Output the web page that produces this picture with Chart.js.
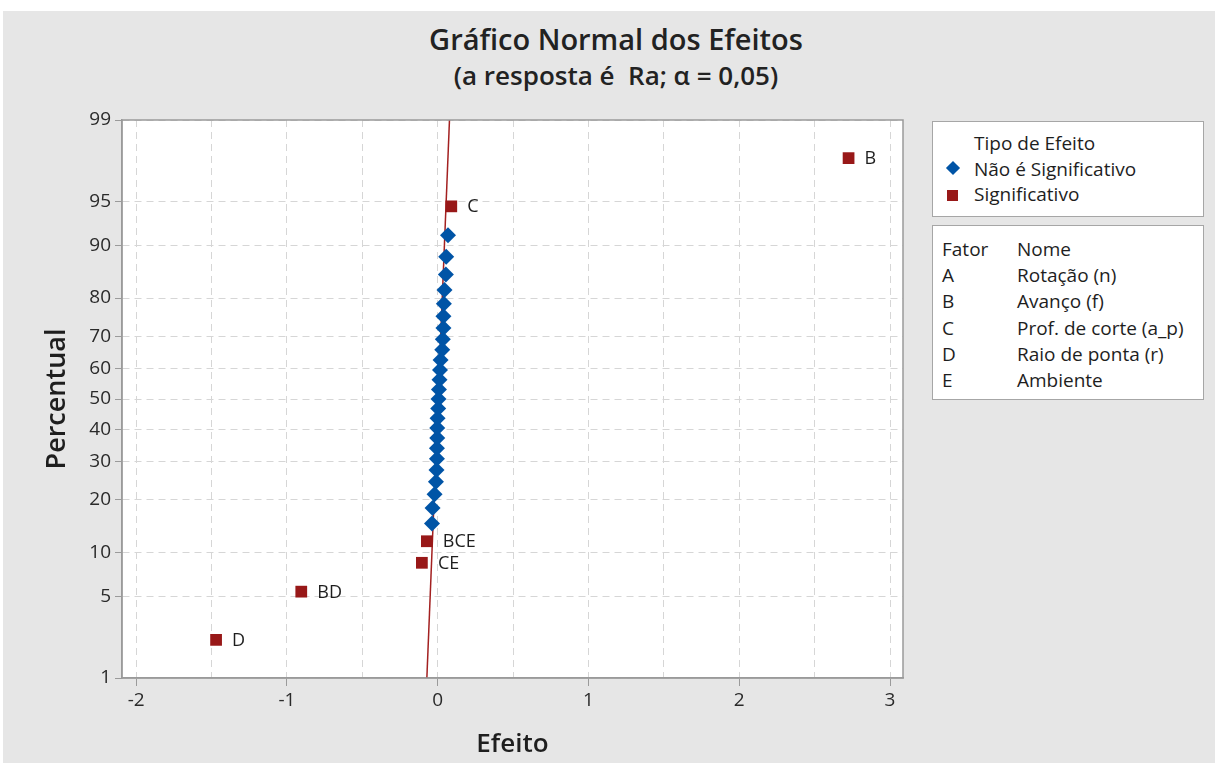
<!DOCTYPE html>
<html>
<head>
<meta charset="utf-8">
<script src="https://cdn.jsdelivr.net/npm/chart.js@4.4.0/dist/chart.umd.min.js"></script>
<style>
  html, body { margin: 0; padding: 0; background: #fff; width: 1215px; height: 763px; overflow: hidden; font-family: "Open Sans", sans-serif; color: #1e1e1e; }
  #fundo { position: absolute; left: 3px; top: 11px; width: 1212px; height: 752px; background: #e6e6e6; }
  #wrap { position: absolute; left: 17px; top: 0; width: 1198px; height: 763px; }
  .tit { position: absolute; left: 17px; width: 1198px; text-align: center; white-space: nowrap; font-weight: 600; color: #222; }
  #t1 { top: 21px; font-size: 29px; line-height: 36px; }
  #t2 { top: 60px; font-size: 26px; line-height: 30px; }
  .caixa { position: absolute; left: 932px; width: 272px; background: #fff; border: 1px solid #a6a6a6; box-sizing: border-box; font-size: 19px; }
  .lin { position: absolute; white-space: nowrap; line-height: 24px; }
  .diam { position: absolute; width: 10px; height: 10px; background: #0054a6; transform: rotate(45deg); }
  .quad { position: absolute; width: 11px; height: 11px; background: #981818; }
</style>
</head>
<body>
<div id="fundo"></div>
<div class="tit" id="t1">Gráfico Normal dos Efeitos</div>
<div class="tit" id="t2">(a resposta é&nbsp; Ra; α = 0,05)</div>
<div id="wrap"><canvas id="grafica" width="1198" height="763"></canvas></div>

<div class="caixa" style="top:121px;height:96px;">
  <div class="lin" style="left:41px;top:9px;">Tipo de Efeito</div>
  <div class="diam" style="left:15px;top:41px;"></div>
  <div class="lin" style="left:41px;top:35px;">Não é Significativo</div>
  <div class="quad" style="left:14px;top:68px;"></div>
  <div class="lin" style="left:41px;top:60px;">Significativo</div>
</div>
<div class="caixa" id="fatores" style="top:225px;height:175px;"></div>

<script>
// fatores do planejamento
const fatores = ["A", "B", "C", "D", "E"];
const nomesFatores = ["Rotação (n)", "Avanço (f)", "Prof. de corte (a_p)", "Raio de ponta (r)", "Ambiente"];

// efeitos não significativos (ordenados) e seus percentuais
const efeitosNS = [-0.038, -0.034, -0.021, -0.012, -0.008, -0.005, -0.005, -0.003, -0.003, -0.001,
                   0.003, 0.005, 0.008, 0.012, 0.015, 0.019, 0.030, 0.034, 0.038, 0.038,
                   0.041, 0.045, 0.054, 0.056, 0.068];
const percNS = [14.97, 18.15, 21.34, 24.52, 27.71, 30.89, 34.08, 37.26, 40.45, 43.63,
                46.82, 50.00, 53.18, 56.37, 59.55, 62.74, 65.92, 69.11, 72.29, 75.48,
                78.66, 81.85, 85.03, 88.22, 91.40];

// efeitos significativos
const nomesSig = ["D", "BD", "CE", "BCE", "C", "B"];
const efeitosSig = [-1.47, -0.905, -0.105, -0.072, 0.09, 2.725];
const percSig = [2.23, 5.41, 8.60, 11.78, 94.59, 97.77];

// reta de referência
const linhaEfeito = [-0.072, 0.078];
const linhaPerc = [1, 99];

// marcas dos eixos
const percTicks = [1, 5, 10, 20, 30, 40, 50, 60, 70, 80, 90, 95, 99];
const efeitoTicks = [-2, -1.5, -1, -0.5, 0, 0.5, 1, 1.5, 2, 2.5, 3];

// tabela de fatores
const $fat = document.querySelector("#fatores");
let html = '<div class="lin" style="left:9px;top:11px;">Fator</div><div class="lin" style="left:84px;top:11px;">Nome</div>';
fatores.forEach((f, i) => {
  const top = 11 + (i + 1) * 26.2;
  html += `<div class="lin" style="left:9px;top:${top}px;">${f}</div><div class="lin" style="left:84px;top:${top}px;">${nomesFatores[i]}</div>`;
});
$fat.innerHTML = html;

// inversa da normal padrão (Acklam)
function probit(p) {
  const a = [-3.969683028665376e+01, 2.209460984245205e+02, -2.759285104469687e+02, 1.383577518672690e+02, -3.066479806614716e+01, 2.506628277459239e+00];
  const b = [-5.447609879822406e+01, 1.615858368580409e+02, -1.556989798598866e+02, 6.680131188771972e+01, -1.328068155288572e+01];
  const c = [-7.784894002430293e-03, -3.223964580411365e-01, -2.400758277161838e+00, -2.549732539343734e+00, 4.374664141464968e+00, 2.938163982698783e+00];
  const d = [7.784695709041462e-03, 3.224671290700398e-01, 2.445134137142996e+00, 3.754408661907416e+00];
  const pl = 0.02425;
  let q, r;
  if (p < pl) {
    q = Math.sqrt(-2 * Math.log(p));
    return (((((c[0]*q+c[1])*q+c[2])*q+c[3])*q+c[4])*q+c[5]) / ((((d[0]*q+d[1])*q+d[2])*q+d[3])*q+1);
  }
  if (p > 1 - pl) {
    q = Math.sqrt(-2 * Math.log(1 - p));
    return -(((((c[0]*q+c[1])*q+c[2])*q+c[3])*q+c[4])*q+c[5]) / ((((d[0]*q+d[1])*q+d[2])*q+d[3])*q+1);
  }
  q = p - 0.5; r = q * q;
  return (((((a[0]*r+a[1])*r+a[2])*r+a[3])*r+a[4])*r+a[5])*q / (((((b[0]*r+b[1])*r+b[2])*r+b[3])*r+b[4])*r+1);
}
const pontos = (xs, ps) => xs.map((x, i) => ({ x: x, y: probit(ps[i] / 100) }));

const fonte = { family: "Open Sans", size: 19 };

// fundo branco + moldura da área do gráfico
const moldura = {
  id: "moldura",
  beforeDraw(chart) {
    const { ctx, chartArea: a } = chart;
    ctx.save();
    ctx.fillStyle = "#fff";
    ctx.fillRect(a.left, a.top, a.right - a.left, a.bottom - a.top);
    ctx.restore();
  },
  afterDraw(chart) {
    const { ctx, chartArea: a } = chart;
    ctx.save();
    ctx.strokeStyle = "#9a9a9a";
    ctx.lineWidth = 1.5;
    ctx.strokeRect(a.left, a.top, a.right - a.left, a.bottom - a.top);
    ctx.restore();
  },
};

// rótulos dos efeitos significativos
const rotulos = {
  id: "rotulos",
  afterDatasetsDraw(chart) {
    const meta = chart.getDatasetMeta(2);
    const ctx = chart.ctx;
    ctx.save();
    ctx.font = "18px 'Open Sans'";
    ctx.fillStyle = "#1e1e1e";
    ctx.textBaseline = "middle";
    meta.data.forEach((el, i) => ctx.fillText(nomesSig[i], el.x + 16, el.y + 1));
    ctx.restore();
  },
};

new Chart(document.querySelector("#grafica"), {
  data: {
    datasets: [
      {
        type: "line",
        label: "Reta",
        data: pontos(linhaEfeito, linhaPerc),
        borderColor: "#a32020",
        borderWidth: 1.5,
        pointRadius: 0,
        order: 3,
      },
      {
        type: "scatter",
        label: "Não é Significativo",
        data: pontos(efeitosNS, percNS),
        pointStyle: "rectRot",
        pointRadius: 8,
        backgroundColor: "#0054a6",
        borderColor: "#0054a6",
        borderWidth: 0,
        order: 1,
      },
      {
        type: "scatter",
        label: "Significativo",
        data: pontos(efeitosSig, percSig),
        pointStyle: "rect",
        pointRadius: 8.3,
        backgroundColor: "#981818",
        borderColor: "#981818",
        borderWidth: 0,
        order: 1,
      },
    ],
  },
  options: {
    responsive: false,
    animation: false,
    layout: { padding: { top: 120, right: 312, left: 0, bottom: 0 } },
    scales: {
      x: {
        type: "linear",
        min: -2.094,
        max: 3.086,
        afterFit(s) { s.height = 85; },
        afterBuildTicks(s) { s.ticks = efeitoTicks.map(v => ({ value: v })); },
        ticks: {
          color: "#2a2a2a",
          font: fonte,
          padding: 3,
          maxRotation: 0,
          autoSkip: false,
          callback: (v, i) => (Number.isInteger(efeitoTicks[i]) ? String(efeitoTicks[i]) : ""),
        },
        grid: {
          color: "#d6d6d6",
          tickLength: 8,
          tickColor: c => (Number.isInteger(c.tick.value) ? "#9a9a9a" : "rgba(0,0,0,0)"),
        },
        border: { color: "#9a9a9a", width: 1.5, dash: [7, 5] },
        title: {
          display: true,
          text: "Efeito",
          color: "#1e1e1e",
          font: { family: "Open Sans", size: 26, weight: "600" },
          padding: { top: 0, bottom: 3 },
        },
      },
      y: {
        type: "linear",
        min: probit(0.01),
        max: probit(0.99),
        afterFit(s) { s.width = 105; },
        afterBuildTicks(s) { s.ticks = percTicks.map(p => ({ value: probit(p / 100) })); },
        ticks: {
          color: "#2a2a2a",
          font: fonte,
          padding: 4,
          autoSkip: false,
          callback: (v, i) => String(percTicks[i]),
        },
        grid: { color: "#d6d6d6", tickLength: 7, tickColor: "#9a9a9a" },
        border: { color: "#9a9a9a", width: 1.5, dash: [7, 5] },
        title: {
          display: true,
          text: "Percentual",
          color: "#1e1e1e",
          font: { family: "Open Sans", size: 27, weight: "600" },
          padding: { top: 24, bottom: 0 },
        },
      },
    },
    plugins: {
      legend: { display: false },
      tooltip: { enabled: false },
    },
  },
  plugins: [moldura, rotulos],
});
</script>
</body>
</html>
